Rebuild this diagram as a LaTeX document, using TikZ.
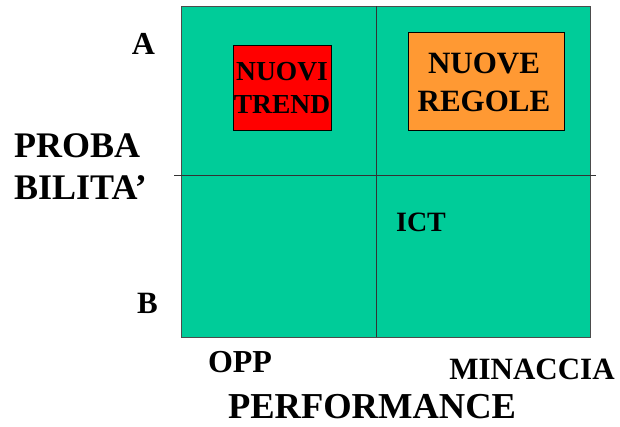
\documentclass[tikz,border=0pt]{standalone}
\usepackage{fontspec}
\setmainfont{Liberation Serif}
\definecolor{quadgreen}{HTML}{00CC99}
\definecolor{boxred}{HTML}{FF0000}
\definecolor{boxorange}{HTML}{FF9933}
\begin{document}
\begin{tikzpicture}[x=1pt,y=-1pt,
  lbl/.style={inner sep=0pt,font=\bfseries},
  tag/.style={draw=black,line width=0.9pt,inner sep=0pt}]
\useasboundingbox (0,0) rectangle (620,426);
% quadrant grid
\fill[quadgreen] (181,6) rectangle (590,337);
\draw[black!70,line width=0.9pt] (181,6) rectangle (590,337);
\coordinate (vt) at (376,6);
\coordinate (vb) at (376,337);
\coordinate (hl) at (174,175);
\coordinate (hr) at (596,175);
\draw[black!80,line width=0.8pt] (vt) -- (vb);
\draw[black!80,line width=0.8pt] (hl) -- (hr);
% highlighted boxes
\node[tag,fill=boxred,minimum width=98pt,minimum height=85pt] (trend) at (282,87.5) {};
\node[lbl,align=center,font=\fontsize{27.5}{33}\selectfont\bfseries] (trendtxt) at (282,88) {NUOVI\\TREND};
\node[tag,fill=boxorange,minimum width=156pt,minimum height=98pt] (regole) at (486,81) {};
\node[lbl,align=center,font=\fontsize{31}{38}\selectfont\bfseries] (regoletxt) at (484,82) {NUOVE\\REGOLE};
\node[lbl,font=\fontsize{28}{30}\selectfont\bfseries] (ict) at (421,222) {ICT};
% axis labels
\node[lbl,font=\fontsize{32}{34}\selectfont\bfseries] (a) at (143.5,44) {A};
\node[lbl,font=\fontsize{31}{34}\selectfont\bfseries] (b) at (147.5,303) {B};
\node[lbl,align=left,anchor=west,font=\fontsize{36}{42}\selectfont\bfseries] (prob) at (14,167) {PROBA\\BILITA’};
\node[lbl,font=\fontsize{32}{34}\selectfont\bfseries] (opp) at (240,362) {OPP};
\node[lbl,font=\fontsize{31}{34}\selectfont\bfseries] (min) at (532,369) {MINACCIA};
\node[lbl,font=\fontsize{36.5}{40}\selectfont\bfseries] (perf) at (372,407) {PERFORMANCE};
\end{tikzpicture}
\end{document}
